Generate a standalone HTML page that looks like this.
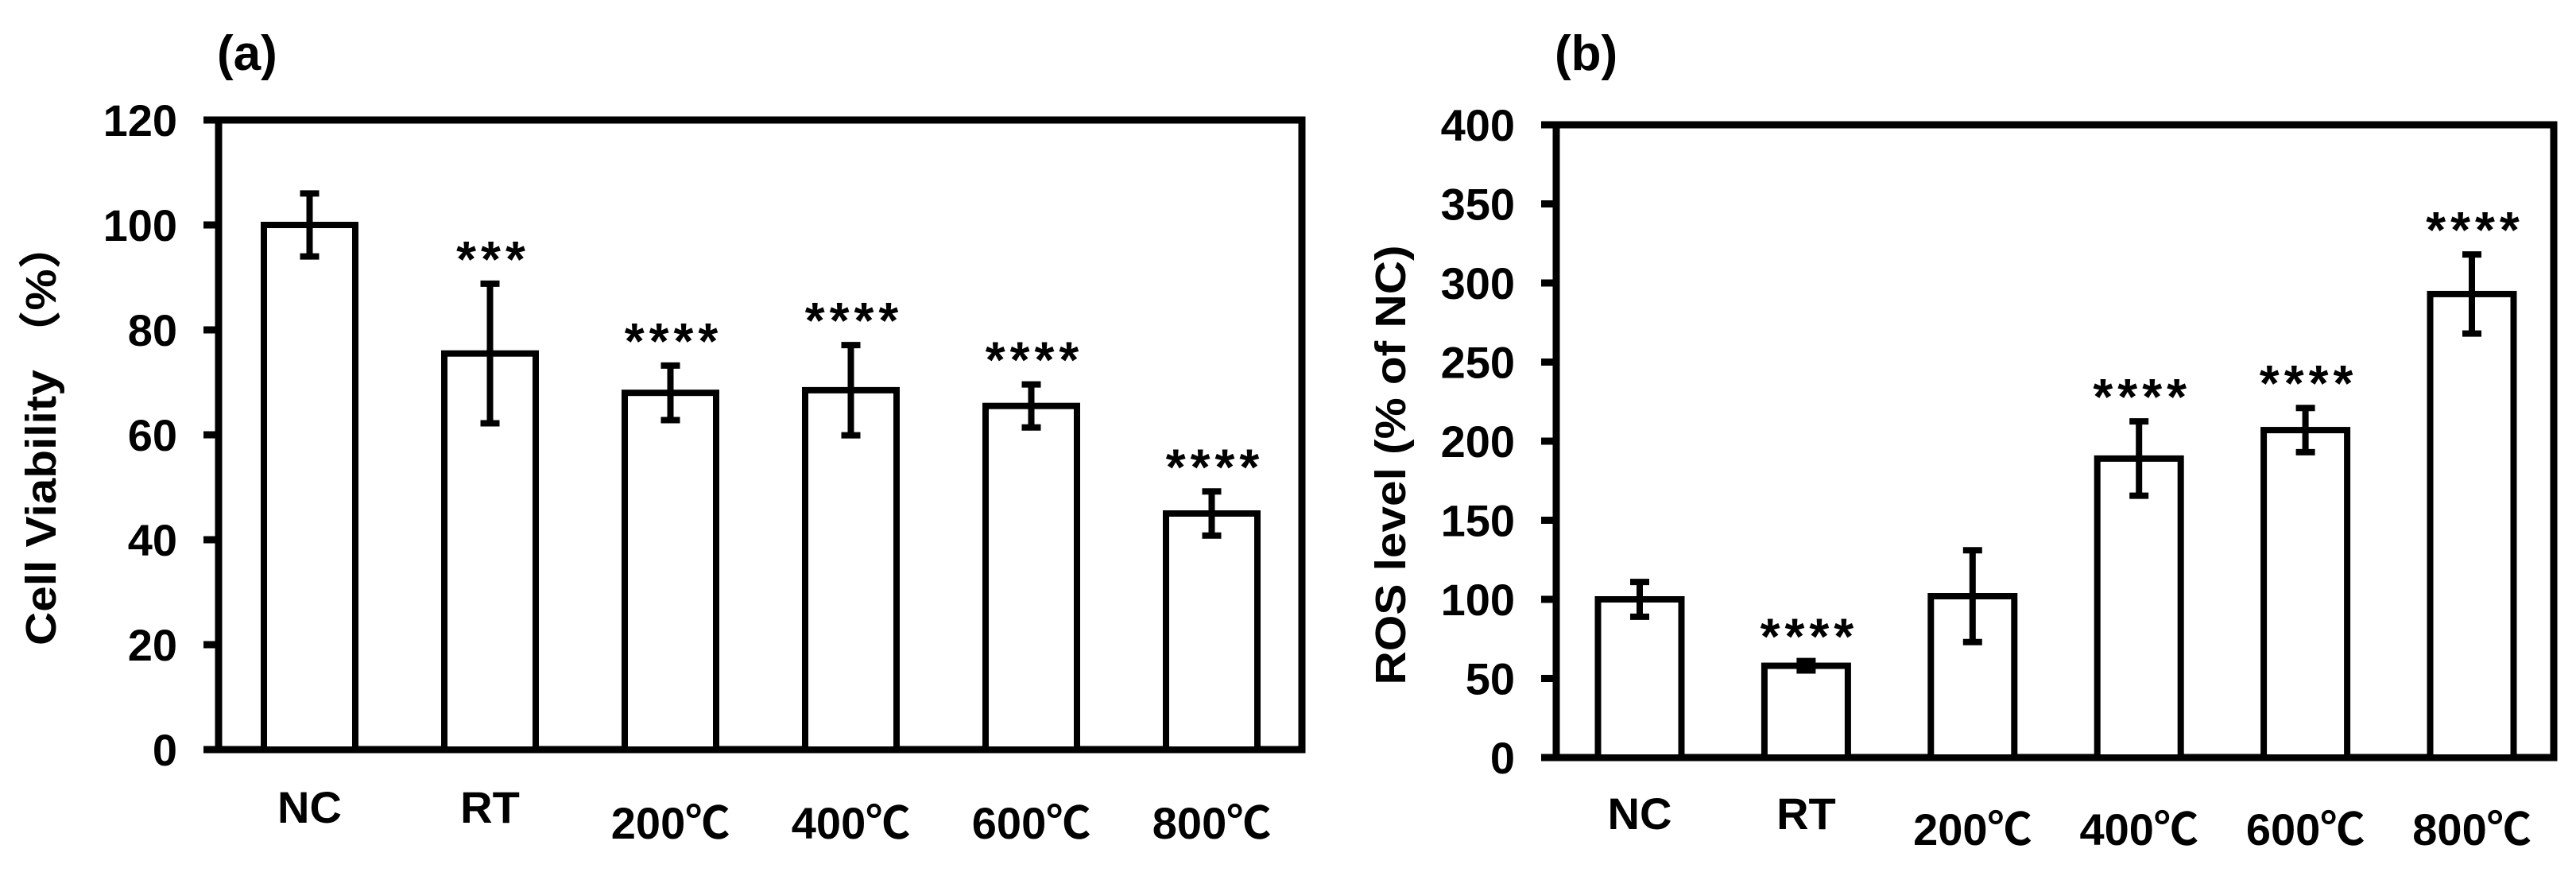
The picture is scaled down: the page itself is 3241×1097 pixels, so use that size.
<!DOCTYPE html>
<html><head><meta charset="utf-8"><style>
html,body{margin:0;padding:0;background:#fff;}
svg{display:block;}
text{font-family:"Liberation Sans","Noto Sans CJK SC",sans-serif;font-weight:bold;fill:#000;}
</style></head><body>
<svg id="fig" width="3241" height="1097" viewBox="0 0 3241 1097" xmlns="http://www.w3.org/2000/svg"></svg>
<script>
const categories = ["NC","RT","200℃","400℃","600℃","800℃"];
const viabilityValues = [100, 75.5, 68, 68.5, 65.5, 45];
const viabilityErrors = [6, 13.3, 5.2, 8.6, 4.1, 4.2];
const viabilityStars = ["", "***", "****", "****", "****", "****"];
const viabilityTicks = [0, 20, 40, 60, 80, 100, 120];
const rosValues = [100, 58, 102, 189, 207, 293];
const rosErrors = [11, 3, 29, 23.5, 14, 25];
const rosStars = ["", "****", "", "****", "****", "****"];
const rosTicks = [0, 50, 100, 150, 200, 250, 300, 350, 400];

const NS = "http://www.w3.org/2000/svg";
const svg = document.getElementById("fig");
function mk(tag, attrs, parent) {
  const e = document.createElementNS(NS, tag);
  for (const k in attrs) e.setAttribute(k, attrs[k]);
  (parent || svg).appendChild(e);
  return e;
}

function panel(cfg) {
  const g = mk("g", {});
  
  
  const yScale = v => cfg.y0 + (cfg.y1 - cfg.y0) * (v - cfg.ticks[0]) / (cfg.ticks[cfg.ticks.length - 1] - cfg.ticks[0]);
  const xScale = i => cfg.xFirst + i * cfg.step;

  // frame
  const frame = mk("rect", {x: cfg.left, y: cfg.y1, width: cfg.right - cfg.left, height: cfg.y0 - cfg.y1, fill: "none", stroke: "#000", "stroke-width": 9}, g);
  
  

  // ticks
  cfg.ticks.forEach(t => {
    const y = yScale(t);
    const tk = mk("line", {x1: cfg.left - 19, x2: cfg.left, y1: y, y2: y, stroke: "#000", "stroke-width": 9}, g);
    
    
    const lb = mk("text", {x: cfg.left - 52, y: y + 20, "font-size": 56, "text-anchor": "end"}, g);
    
    
    lb.textContent = t;
  });

  // bars
  cfg.values.forEach((v, i) => {
    const cx = xScale(i);
    const top = yScale(v);
    const bar = mk("rect", {x: cx - cfg.barW / 2, y: top, width: cfg.barW, height: cfg.y0 - top, fill: "#fff", stroke: "#000", "stroke-width": 8}, g);
    
    
    const eTop = yScale(v + cfg.errors[i]);
    const eBot = yScale(v - cfg.errors[i]);
    const el = mk("path", {d: `M${cx},${eTop}V${eBot}M${cx-12},${eTop}H${cx+12}M${cx-12},${eBot}H${cx+12}`, stroke: "#000", "stroke-width": 8, fill: "none"}, g);
    
    
    if (cfg.stars[i]) {
      const st = mk("text", {x: cx + 4, y: eTop - 46 + 37, "font-size": 64, "text-anchor": "middle", "letter-spacing": 6}, g);
      
      
      st.textContent = cfg.stars[i];
    }
    const xl = mk("text", {x: cx, y: i < 2 ? cfg.labelY1 : cfg.labelY2, "font-size": 56, "text-anchor": "middle"}, g);
    
    
    xl.textContent = categories[i];
  });

  const yt = mk("text", {x: 0, y: 0, "font-size": 54, "text-anchor": "middle", textLength: cfg.titleLen, lengthAdjust: "spacingAndGlyphs", transform: `translate(${cfg.titleX},${cfg.titleY}) rotate(-90)`}, g);
  
  
  yt.textContent = cfg.title;

  const pl = mk("text", {x: cfg.left - 2, y: 88, "font-size": 62}, g);
  
  
  pl.textContent = cfg.label;
}

panel({name: "panel-a-cell-viability", left: 275, right: 1638, y0: 943, y1: 151, ticks: viabilityTicks,
  values: viabilityValues, errors: viabilityErrors, stars: viabilityStars,
  xFirst: 389.5, step: 227, barW: 115, labelY1: 1035, labelY2: 1055,
  title: "Cell Viability （%）", titleX: 70, titleY: 546, titleLen: 532, label: "(a)"});

panel({name: "panel-b-ros-level", left: 1958, right: 3213, y0: 953, y1: 157, ticks: rosTicks,
  values: rosValues, errors: rosErrors, stars: rosStars,
  xFirst: 2063, step: 209.4, barW: 105, labelY1: 1043, labelY2: 1063,
  title: "ROS level (% of NC)", titleX: 1768, titleY: 585, titleLen: 553, label: "(b)"});
</script>
</body></html>
